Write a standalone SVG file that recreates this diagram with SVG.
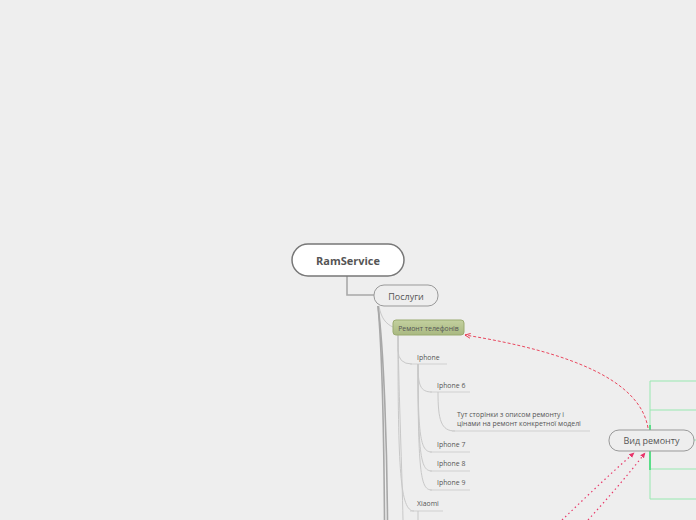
<svg xmlns="http://www.w3.org/2000/svg" width="696" height="520" viewBox="0 0 696 520">
<defs>
<style>
.bg{fill:#eeeeee}
.main{fill:none;stroke:#a8a8a8;stroke-width:1.6}
.thin{fill:none;stroke:#c8c8c8;stroke-width:1}
.ul{fill:none;stroke:#cfcfcf;stroke-width:1.2}
.sub{fill:#eeeeee;stroke:#999999;stroke-width:1}
.lbl{font-family:"Open Sans","Liberation Sans",sans-serif;fill:#555555}
.green{fill:none;stroke:#98e8b0;stroke-width:1}
.rel{fill:none;stroke:#e8344e;stroke-width:0.9;stroke-dasharray:3 2}
.rel2{fill:none;stroke:#e83a6a;stroke-width:1.2;stroke-dasharray:1.5 3}
</style>
<marker id="ah" viewBox="0 0 10 10" refX="9" refY="5" markerWidth="6" markerHeight="6" orient="auto-start-reverse" markerUnits="userSpaceOnUse">
<path d="M0,1 L9,5 L0,9" fill="none" stroke="#e8344e" stroke-width="1.5"/>
</marker>
<marker id="ah2" viewBox="0 0 10 10" refX="8" refY="5" markerWidth="6" markerHeight="6" orient="auto" markerUnits="userSpaceOnUse">
<path d="M0,1 L9,5 L0,9 Z" fill="#e8346a"/>
</marker>
<linearGradient id="gg" x1="0" y1="0" x2="0" y2="1">
<stop offset="0" stop-color="#c3d09f"/>
<stop offset="1" stop-color="#a9b981"/>
</linearGradient>
</defs>
<rect class="bg" x="0" y="0" width="696" height="520"/>

<g id="connectors">
<path class="main" d="M347,276 L347,295 L374,295"/>
<path class="thin" d="M379,306 C381,318 386,324 393,327"/>
<path class="main" d="M378,306 C382,350 384,450 384.5,520"/>
<path class="main" d="M378,306 C384,350 387,450 387.5,520"/>
<path class="thin" d="M398,335 L398,350 Q398,364 412,364"/>
<path class="ul" d="M410,364 L447,364"/>
<path class="thin" d="M398,335 C398,470 400,511 414,511"/>
<path class="ul" d="M410,511 L443,511"/>
<path class="thin" d="M398,335 C399,400 402,470 403,520"/>
<path class="thin" d="M418,364 C418,385 420,392 432,392"/>
<path class="ul" d="M430,392 L470,392"/>
<path class="thin" d="M418,364 C418,440 421,452 432,452"/>
<path class="ul" d="M430,452 L470,452"/>
<path class="thin" d="M418,364 C418,458 421,471 432,471"/>
<path class="ul" d="M430,471 L470,471"/>
<path class="thin" d="M418,364 C418,477 421,490 432,490"/>
<path class="ul" d="M430,490 L470,490"/>
<path class="thin" d="M438,392 C438,420 441,431 455,431"/>
<path class="ul" d="M452,431 L590,431"/>
<path class="thin" d="M418,511 L418,520"/>
<path class="green" d="M650,381 L650,499 M650,381 L696,381 M650,410 L696,410 M650,440 L696,440 M650,469 L696,469 M650,499 L696,499"/>
<path fill="none" stroke="#4fdc80" stroke-width="1.8" d="M650,425 L650,470"/>
<path class="rel" marker-end="url(#ah)" d="M648,428 C640,380 570,352 465,335"/>
<path class="rel2" marker-end="url(#ah2)" d="M562,520 C585,498 610,474 634,453"/>
<path class="rel2" marker-end="url(#ah2)" d="M588,520 C608,498 628,475 645,453"/>
</g>

<g id="ramservice">
<rect x="292" y="244" width="112" height="32" rx="16" fill="#ffffff" stroke="#777777" stroke-width="1.5"/>
<text class="lbl" x="348" y="265" font-size="11" font-weight="bold" text-anchor="middle" fill="#444444">RamService</text>
</g>
<g id="poslugy">
<rect class="sub" x="374" y="285" width="64" height="21" rx="10"/>
<text class="lbl" x="406" y="299.5" font-size="9" text-anchor="middle">Послуги</text>
</g>
<g id="remont">
<rect x="393" y="320" width="71" height="15" rx="3" fill="url(#gg)" stroke="#9aab70" stroke-width="1"/>
<text class="lbl" x="428.5" y="330.5" font-size="6.9" text-anchor="middle">Ремонт телефонів</text>
</g>
<g id="iphone"><text class="lbl" x="417" y="360" font-size="6.9">Iphone</text></g>
<g id="iphone6"><text class="lbl" x="437" y="388" font-size="6.9">Iphone 6</text></g>
<g id="desc">
<text class="lbl" x="457" y="417" font-size="6.9">Тут сторінки з описом ремонту і</text>
<text class="lbl" x="457" y="426" font-size="6.9">цінами на ремонт конкретної моделі</text>
</g>
<g id="iphone7"><text class="lbl" x="437" y="447" font-size="6.9">Iphone 7</text></g>
<g id="iphone8"><text class="lbl" x="437" y="466" font-size="6.9">Iphone 8</text></g>
<g id="iphone9"><text class="lbl" x="437" y="485" font-size="6.9">Iphone 9</text></g>
<g id="xiaomi"><text class="lbl" x="417" y="506" font-size="6.9">Xiaomi</text></g>
<g id="vid">
<rect class="sub" x="609" y="430" width="85" height="21" rx="10"/>
<text class="lbl" x="651.5" y="444" font-size="9" text-anchor="middle">Вид ремонту</text>
</g>
</svg>
